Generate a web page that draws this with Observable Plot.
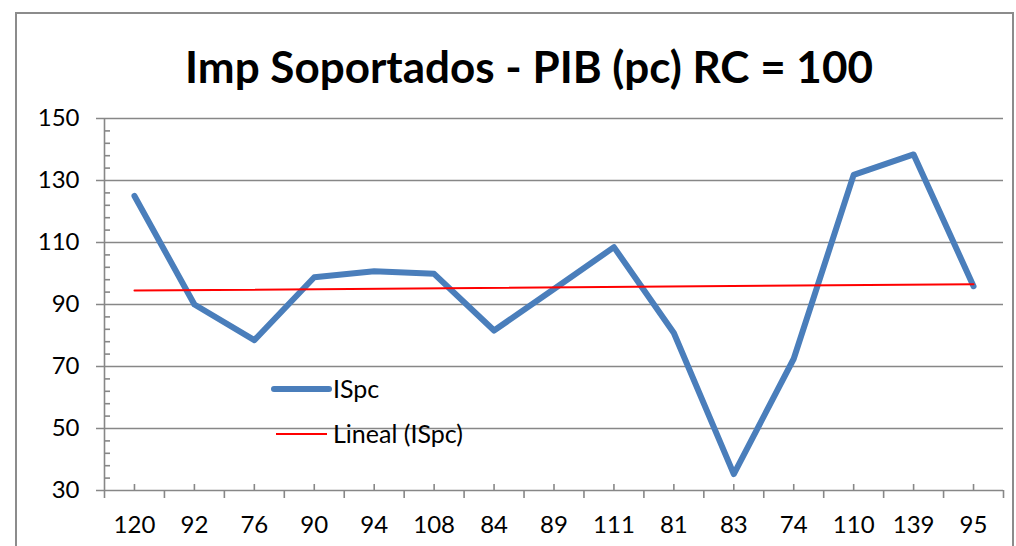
<!DOCTYPE html>
<html>
<head>
<meta charset="utf-8">
<script src="https://cdn.jsdelivr.net/npm/d3@7"></script>
<script src="https://cdn.jsdelivr.net/npm/@observablehq/plot@0.6"></script>
<style>
  html, body { margin: 0; padding: 0; background: #fff; }
  #wrap { position: relative; width: 1016px; height: 546px; overflow: hidden; font-family: Lato, "Open Sans", sans-serif; }
  #border { position: absolute; left: 15px; top: 12px; width: 999px; height: 600px; border: 2px solid #8c8c8c; box-sizing: border-box; }
  #title { position: absolute; left: 0; width: 1058px; top: 40px; text-align: center; font-size: 44px; line-height: 52px; font-weight: 700; color: #000; }
  #chart { position: absolute; left: 0; top: 0; }
  #legend { position: absolute; left: 0; top: 0; }
</style>
</head>
<body>
<div id="wrap">
  <div id="border"></div>
  <div id="chart"></div>
  <div id="title">Imp Soportados - PIB (pc) RC = 100</div>
  <svg id="legend" width="1016" height="546"></svg>
</div>
<script>
// ---- data ----
const categories = ["120","92","76","90","94","108","84","89","111","81","83","74","110","139","95"];
const ispc = [125, 90, 78.5, 98.8, 100.7, 99.9, 81.6, 95, 108.5, 80.8, 35.3, 72.5, 131.8, 138.4, 95.9];
const yTicks = [30, 50, 70, 90, 110, 130, 150];
const seriesName = "ISpc";
const trendName = "Lineal (ISpc)";

// ---- derived ----
const data = ispc.map((v, i) => ({i: i + 1, v}));
const centers = categories.map((c, i) => i + 1);
const bounds = d3.range(0.5, categories.length + 1, 1);
const yMinor = d3.range(30, 150, 4).filter(v => !yTicks.includes(v));

const W = 1016, H = 546;
const mL = 104, mR = 13, mT = 118, mB = 56;
const fw = W - mL - mR, fh = H - mT - mB;
const grid = "#878787";

const chart = Plot.plot({
  width: W, height: H,
  marginLeft: mL, marginRight: mR, marginTop: mT, marginBottom: mB,
  style: {fontFamily: "Lato, 'Open Sans', sans-serif", fontSize: "24px", color: "#000", background: "transparent"},
  x: {type: "linear", domain: [0.5, categories.length + 0.5]},
  y: {domain: [30, 150]},
  marks: [
    Plot.ruleY(yTicks, {stroke: grid, strokeWidth: 1.6, insetLeft: -8}),
    Plot.ruleY(yMinor, {stroke: grid, strokeWidth: 1.6, insetRight: fw - 6}),
    Plot.ruleX([0.5], {stroke: grid, strokeWidth: 1.6}),
    Plot.ruleX(centers, {stroke: grid, strokeWidth: 1.6, insetTop: fh - 6}),
    Plot.ruleX(bounds, {stroke: grid, strokeWidth: 1.6, insetTop: fh, insetBottom: -8}),
    Plot.axisY({ticks: yTicks, tickSize: 0, tickPadding: 25, fontSize: 24, label: null}),
    Plot.axisX({ticks: centers, tickSize: 0, tickPadding: 25, fontSize: 24, label: null,
      tickFormat: d => categories[d - 1]}),
    Plot.line(data, {x: "i", y: "v", stroke: "#4a7ebb", strokeWidth: 6, strokeLinejoin: "round", strokeLinecap: "round"}),
    Plot.linearRegressionY(data, {x: "i", y: "v", stroke: "#ff0000", strokeWidth: 2, ci: 0})
  ]
});
document.getElementById("chart").appendChild(chart);

// ---- legend overlay ----
const lg = d3.select("#legend");
const items = [
  {name: seriesName, color: "#4a7ebb", w: 6, x1: 274, x2: 329, y: 389},
  {name: trendName, color: "#ff0000", w: 2, x1: 276, x2: 327, y: 434}
];
items.forEach(it => {
  lg.append("line").attr("x1", it.x1).attr("x2", it.x2).attr("y1", it.y).attr("y2", it.y)
    .attr("stroke", it.color).attr("stroke-width", it.w).attr("stroke-linecap", it.w > 3 ? "round" : "butt");
  lg.append("text").attr("x", 333).attr("y", it.y).attr("dy", "0.35em")
    .attr("font-family", "Lato, 'Open Sans', sans-serif").attr("font-size", 25).attr("fill", "#000")
    .text(it.name);
});
</script>
</body>
</html>
